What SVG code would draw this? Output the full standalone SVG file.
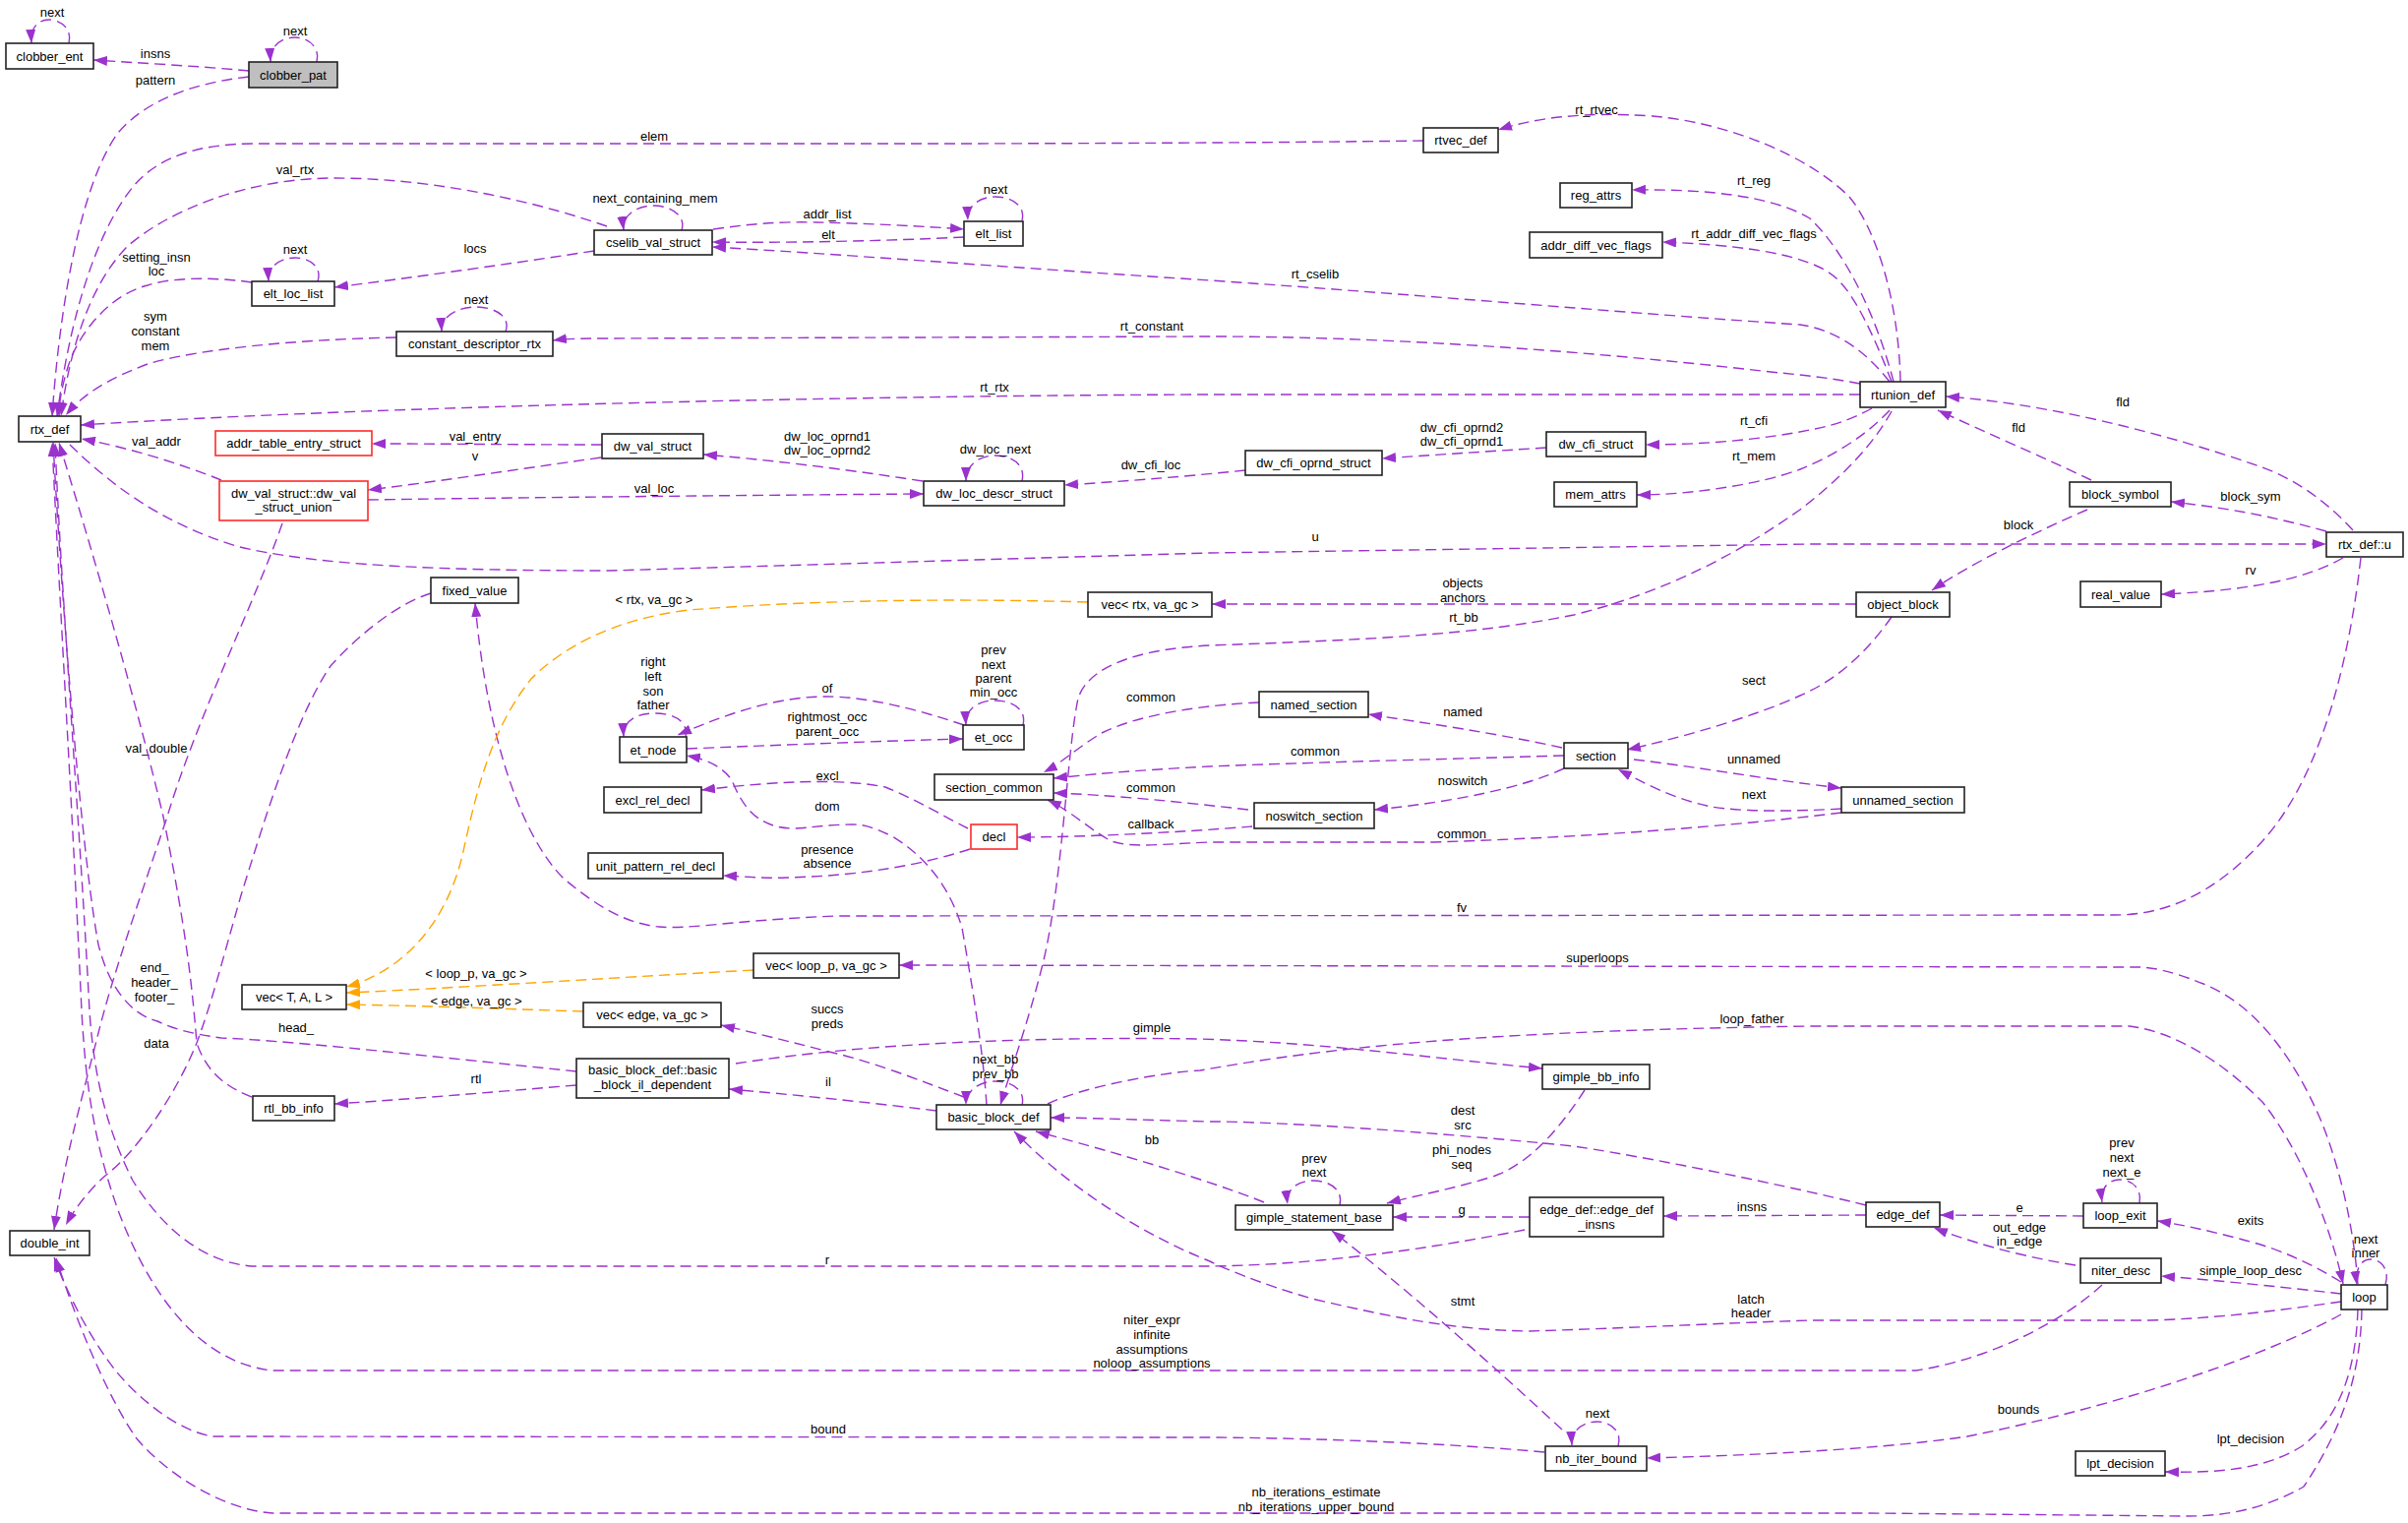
<svg xmlns="http://www.w3.org/2000/svg" width="2448" height="1548" viewBox="0 0 2448 1548">
<defs>
<style>
text{font-family:"Liberation Sans",Arial,Helvetica,sans-serif;font-size:13px;fill:#000;text-anchor:middle}
.n rect{fill:#fff;stroke:#222;stroke-width:1.6}
.n.red rect{stroke:#ff2a2a}
.n.cur rect{fill:#bfbfbf}
.e path{fill:none;stroke:#9a32cd;stroke-width:1.4;stroke-dasharray:11,6;marker-end:url(#ap)}
.o path{fill:none;stroke:#ffa500;stroke-width:1.4;stroke-dasharray:11,6;marker-end:url(#ao)}
</style>
<marker id="ap" markerUnits="userSpaceOnUse" markerWidth="14" markerHeight="10" refX="14" refY="5" orient="auto"><path d="M0,0L14,5L0,10z" fill="#9a32cd"/></marker>
<marker id="ao" markerUnits="userSpaceOnUse" markerWidth="14" markerHeight="10" refX="14" refY="5" orient="auto"><path d="M0,0L14,5L0,10z" fill="#ffa500"/></marker>
</defs>
<rect width="2448" height="1548" fill="#fff"/>
<g id="connectors">
<g class="e"><path d="M70,44 C74,28 60,20 50,20 C38,20 31,28 32,44"/><text x="53" y="16.5">next</text></g>
<g class="e"><path d="M322,63 C326,47 312,38 300,38 C287,38 274,46 275,63"/><text x="300" y="35.5">next</text></g>
<g class="e"><path d="M253,72 C200,67 140,64 95,61"/><text x="158" y="58.5">insns</text></g>
<g class="e"><path d="M253,78 C200,84 150,100 120,135 C80,190 60,320 53,423"/><text x="158" y="85.5">pattern</text></g>
<g class="e"><path d="M1447,143 C1300,145 1100,146 900,146 L260,146 C200,146 160,160 135,190 C95,240 70,330 58,423"/><text x="665" y="142.5">elem</text></g>
<g class="e"><path d="M617,230 C530,200 430,181 340,181 C250,181 170,215 130,250 C90,290 70,360 62,423"/><text x="300" y="176.5">val_rtx</text></g>
<g class="e"><path d="M693,234 C698,218 680,209 665,209 C648,209 632,218 634,234"/><text x="666" y="205.5">next_containing_mem</text></g>
<g class="e"><path d="M725,233 C760,228 790,225 830,226 C880,227 940,230 980,233"/><text x="841" y="221.5">addr_list</text></g>
<g class="e"><path d="M980,241 C900,245 800,247 724,246"/><text x="842" y="242.5">elt</text></g>
<g class="e"><path d="M1039,224 C1043,208 1027,200 1012,200 C997,200 983,208 984,224"/><text x="1012" y="196.5">next</text></g>
<g class="e"><path d="M1921,388 C1895,355 1865,335 1830,330 C1650,318 1450,300 1230,285 C1000,270 850,258 724,251"/><text x="1337" y="282.5">rt_cselib</text></g>
<g class="e"><path d="M1891,390 C1860,384 1840,382 1800,378 C1600,355 1400,342 1230,342 L610,344 C580,344 570,345 562,346"/><text x="1171" y="335.5">rt_constant</text></g>
<g class="e"><path d="M514,337 C520,320 500,312 484,312 C467,312 448,320 449,337"/><text x="484" y="308.5">next</text></g>
<g class="e"><path d="M403,343 C300,345 200,355 150,370 C110,385 85,400 67,422"/><text x="158" y="325.5">sym</text><text x="158" y="340.5">constant</text><text x="158" y="355.5">mem</text></g>
<g class="e"><path d="M256,287 C230,283 180,280 150,290 C110,300 80,340 70,370 C62,395 60,410 60,423"/><text x="159" y="265.5">setting_insn</text><text x="159" y="279.5">loc</text></g>
<g class="e"><path d="M323,286 C328,270 313,262 300,262 C286,262 272,270 273,286"/><text x="300" y="257.5">next</text></g>
<g class="e"><path d="M604,255 C520,268 420,282 340,292"/><text x="483" y="256.5">locs</text></g>
<g class="e"><path d="M1891,401 L1230,401 C900,402 400,412 82,432"/><text x="1011" y="397.5">rt_rtx</text></g>
<g class="e"><path d="M612,452 C530,452 450,451 378,451"/><text x="483" y="447.5">val_entry</text></g>
<g class="e"><path d="M611,465 C520,478 440,490 374,498"/><text x="483" y="467.5">v</text></g>
<g class="e"><path d="M225,488 C180,470 130,455 83,446"/><text x="159" y="452.5">val_addr</text></g>
<g class="e"><path d="M374,508 C500,506 800,503 939,502"/><text x="665" y="500.5">val_loc</text></g>
<g class="e"><path d="M938,489 C860,477 780,467 715,462"/><text x="841" y="447.5">dw_loc_oprnd1</text><text x="841" y="461.5">dw_loc_oprnd2</text></g>
<g class="e"><path d="M1039,489 C1043,471 1027,463 1012,463 C997,463 982,471 982,489"/><text x="1012" y="460.5">dw_loc_next</text></g>
<g class="e"><path d="M1266,478 C1200,485 1130,490 1082,493"/><text x="1170" y="476.5">dw_cfi_loc</text></g>
<g class="e"><path d="M1572,455 C1510,459 1450,463 1405,466"/><text x="1486" y="438.5">dw_cfi_oprnd2</text><text x="1486" y="452.5">dw_cfi_oprnd1</text></g>
<g class="e"><path d="M1903,415 C1880,428 1860,433 1840,437 C1790,447 1730,452 1673,452"/><text x="1783" y="431.5">rt_cfi</text></g>
<g class="e"><path d="M1921,417 C1895,445 1860,465 1830,477 C1790,492 1720,503 1664,503"/><text x="1783" y="467.5">rt_mem</text></g>
<g class="e"><path d="M1925,388 C1910,330 1880,260 1840,222 C1800,198 1730,192 1659,193"/><text x="1783" y="187.5">rt_reg</text></g>
<g class="e"><path d="M1923,388 C1905,340 1885,300 1869,285 C1850,265 1800,250 1690,246"/><text x="1783" y="241.5">rt_addr_diff_vec_flags</text></g>
<g class="e"><path d="M1932,388 C1930,300 1905,230 1880,200 C1840,160 1760,125 1680,118 C1610,113 1560,120 1523,132"/><text x="1623" y="115.5">rt_rtvec</text></g>
<g class="e"><path d="M2126,488 C2080,466 2020,440 1970,417"/><text x="2052" y="438.5">fld</text></g>
<g class="e"><path d="M2392,539 C2370,515 2340,490 2300,475 C2200,440 2080,410 1978,403"/><text x="2158" y="412.5">fld</text></g>
<g class="e"><path d="M2365,540 C2320,528 2280,518 2207,510"/><text x="2288" y="508.5">block_sym</text></g>
<g class="e"><path d="M2122,518 C2060,545 2000,575 1964,600"/><text x="2052" y="537.5">block</text></g>
<g class="e"><path d="M71,452 C110,490 160,530 240,555 C320,575 450,580 620,580 L1230,562 L1840,553 L2365,553"/><text x="1337" y="549.5">u</text></g>
<g class="e"><path d="M2382,567 C2350,585 2300,600 2197,604"/><text x="2288" y="583.5">rv</text></g>
<g class="e"><path d="M2400,567 C2385,700 2350,800 2300,855 C2250,910 2200,930 2150,930 L850,931 C750,935 700,945 670,942 C630,938 600,915 573,893 C530,850 495,750 483,613"/><text x="1486" y="926.5">fv</text></g>
<g class="e"><path d="M1887,614 L1232,614"/><text x="1487" y="596.5">objects</text><text x="1487" y="611.5">anchors</text></g>
<g class="e"><path d="M1923,418 C1900,460 1860,495 1830,518 C1770,560 1700,600 1600,625 C1500,645 1400,650 1230,656 C1150,660 1105,680 1096,710 C1085,760 1080,900 1060,980 C1045,1040 1030,1080 1017,1123"/><text x="1488" y="631.5">rt_bb</text></g>
<g class="e"><path d="M1923,627 C1900,660 1870,690 1830,707 C1780,730 1700,752 1654,762"/><text x="1783" y="695.5">sect</text></g>
<g class="e"><path d="M1588,760 C1520,745 1450,735 1391,726"/><text x="1487" y="727.5">named</text></g>
<g class="e"><path d="M1590,768 C1450,772 1300,776 1230,779 C1150,783 1100,788 1071,791"/><text x="1337" y="767.5">common</text></g>
<g class="e"><path d="M1590,781 C1550,800 1480,815 1397,823"/><text x="1487" y="797.5">noswitch</text></g>
<g class="e"><path d="M1661,772 C1730,780 1800,793 1872,801"/><text x="1783" y="775.5">unnamed</text></g>
<g class="e"><path d="M1872,822 C1820,825 1770,825 1740,820 C1700,812 1670,795 1645,782"/><text x="1783" y="811.5">next</text></g>
<g class="e"><path d="M1872,826 C1800,835 1650,850 1457,856 L1230,856 C1180,858 1150,862 1130,855 C1110,845 1090,825 1065,813"/><text x="1486" y="851.5">common</text></g>
<g class="e"><path d="M1269,823 C1200,815 1130,808 1071,806"/><text x="1170" y="804.5">common</text></g>
<g class="e"><path d="M1273,840 C1200,846 1100,851 1034,851"/><text x="1170" y="841.5">callback</text></g>
<g class="e"><path d="M1280,714 C1230,716 1160,725 1120,745 C1095,760 1080,775 1061,785"/><text x="1170" y="712.5">common</text></g>
<g class="e"><path d="M984,842 C960,830 930,812 900,800 C850,790 780,795 713,803"/><text x="841" y="792.5">excl</text></g>
<g class="e"><path d="M986,863 C940,878 880,890 800,892 C780,893 760,891 735,890"/><text x="841" y="867.5">presence</text><text x="841" y="881.5">absence</text></g>
<g class="e"><path d="M980,737 C930,720 880,708 840,708 C790,708 740,725 689,747"/><text x="841" y="703.5">of</text></g>
<g class="e"><path d="M698,761 C800,757 900,753 979,751"/><text x="841" y="732.5">rightmost_occ</text><text x="841" y="747.5">parent_occ</text></g>
<g class="e"><path d="M697,749 C700,732 683,725 666,725 C648,725 633,732 634,749"/><text x="664" y="677">right</text><text x="664" y="692">left</text><text x="664" y="706.5">son</text><text x="664" y="721">father</text></g>
<g class="e"><path d="M1040,737 C1044,720 1028,712 1011,712 C995,712 981,720 982,737"/><text x="1010" y="664.5">prev</text><text x="1010" y="679.5">next</text><text x="1010" y="693.5">parent</text><text x="1010" y="707.5">min_occ</text></g>
<g class="e"><path d="M1003,1123 C1000,1080 995,1040 978,943 C965,900 940,870 907,850 C890,842 880,838 867,838 C840,838 820,842 808,842 C770,842 755,820 744,793 C735,780 720,772 698,768"/><text x="841" y="823.5">dom</text></g>
<g class="o"><path d="M1106,612 C1000,609 850,608 700,620 C620,630 570,660 540,690 C500,740 485,800 470,870 C450,950 400,990 352,1003"/><text x="665" y="613.5">&lt; rtx, va_gc &gt;</text></g>
<g class="o"><path d="M766,986 C600,995 450,1005 352,1009"/><text x="484" y="993.5">&lt; loop_p, va_gc &gt;</text></g>
<g class="o"><path d="M593,1028 C500,1025 420,1022 352,1021"/><text x="484" y="1021.5">&lt; edge, va_gc &gt;</text></g>
<g class="e"><path d="M2397,1305 C2393,1250 2380,1190 2360,1140 C2330,1070 2290,1020 2240,1000 C2210,988 2190,983 2173,983 L914,981"/><text x="1624" y="977.5">superloops</text></g>
<g class="e"><path d="M980,1115 C940,1100 890,1080 847,1070 C800,1058 760,1048 733,1042"/><text x="841" y="1029.5">succs</text><text x="841" y="1044.5">preds</text></g>
<g class="e"><path d="M952,1129 C880,1120 800,1112 741,1107"/><text x="842" y="1103.5">il</text></g>
<g class="e"><path d="M1039,1123 C1043,1107 1027,1099 1012,1099 C997,1099 982,1107 982,1123"/><text x="1012" y="1080.5">next_bb</text><text x="1012" y="1095.5">prev_bb</text></g>
<g class="e"><path d="M748,1081 C850,1065 1000,1053 1220,1056 C1350,1060 1450,1075 1568,1086"/><text x="1171" y="1048.5">gimple</text></g>
<g class="e"><path d="M1065,1122 C1100,1105 1180,1090 1220,1088 C1350,1065 1500,1048 1840,1043 L2165,1043 C2220,1050 2270,1090 2300,1120 C2340,1170 2370,1250 2382,1305"/><text x="1781" y="1039.5">loop_father</text></g>
<g class="e"><path d="M1611,1108 C1590,1140 1560,1180 1520,1195 C1480,1208 1440,1215 1410,1223"/><text x="1486" y="1172.5">phi_nodes</text><text x="1486" y="1187.5">seq</text></g>
<g class="e"><path d="M1897,1225 C1850,1213 1700,1180 1600,1165 C1450,1150 1300,1140 1230,1140 C1150,1138 1100,1136 1068,1136"/><text x="1487" y="1132.5">dest</text><text x="1487" y="1147.5">src</text></g>
<g class="e"><path d="M1285,1222 C1230,1200 1130,1170 1053,1150"/><text x="1171" y="1162.5">bb</text></g>
<g class="e"><path d="M1362,1225 C1366,1208 1350,1200 1335,1200 C1320,1200 1307,1208 1309,1224"/><text x="1336" y="1181.5">prev</text><text x="1336" y="1195.5">next</text></g>
<g class="e"><path d="M1555,1237 L1416,1237"/><text x="1486" y="1233.5">g</text></g>
<g class="e"><path d="M1897,1235 L1691,1236"/><text x="1781" y="1230.5">insns</text></g>
<g class="e"><path d="M2118,1236 L1972,1235"/><text x="2053" y="1231.5">e</text></g>
<g class="e"><path d="M2110,1286 C2060,1278 2010,1265 1966,1248"/><text x="2053" y="1251.5">out_edge</text><text x="2053" y="1265.5">in_edge</text></g>
<g class="e"><path d="M2175,1223 C2178,1206 2165,1199 2155,1199 C2145,1199 2135,1206 2137,1222"/><text x="2157" y="1165.5">prev</text><text x="2157" y="1180.5">next</text><text x="2157" y="1195.5">next_e</text></g>
<g class="e"><path d="M2380,1303 C2350,1285 2320,1270 2280,1260 C2250,1252 2220,1245 2193,1241"/><text x="2288" y="1244.5">exits</text></g>
<g class="e"><path d="M2380,1315 C2320,1308 2250,1301 2197,1297"/><text x="2288" y="1295.5">simple_loop_desc</text></g>
<g class="e"><path d="M2425,1306 C2430,1290 2420,1280 2410,1280 C2400,1280 2394,1290 2396,1306"/><text x="2405" y="1263.5">next</text><text x="2405" y="1277.5">inner</text></g>
<g class="e"><path d="M2380,1323 C2330,1330 2260,1340 2185,1342 L1840,1342 C1750,1345 1650,1350 1555,1353 C1480,1352 1420,1340 1338,1321 C1280,1305 1240,1287 1230,1282 C1150,1250 1080,1200 1031,1150"/><text x="1780" y="1324.5">latch</text><text x="1780" y="1338.5">header</text></g>
<g class="e"><path d="M2380,1336 C2300,1380 2150,1430 2000,1460 C1900,1475 1750,1480 1674,1482"/><text x="2052" y="1436.5">bounds</text></g>
<g class="e"><path d="M2397,1331 C2395,1390 2380,1440 2340,1470 C2300,1495 2250,1497 2201,1496"/><text x="2288" y="1466.5">lpt_decision</text></g>
<g class="e"><path d="M1645,1470 C1650,1453 1635,1445 1624,1445 C1610,1445 1597,1453 1598,1469"/><text x="1624" y="1440.5">next</text></g>
<g class="e"><path d="M1588,1453 C1520,1390 1430,1310 1354,1251"/><text x="1487" y="1326.5">stmt</text></g>
<g class="e"><path d="M586,1103 C500,1110 420,1117 340,1122"/><text x="484" y="1100.5">rtl</text></g>
<g class="e"><path d="M287,532 C260,610 200,730 170,830 C140,920 115,990 100,1050 C85,1110 65,1180 55,1250"/><text x="159" y="764.5">val_double</text></g>
<g class="e"><path d="M438,603 C400,615 360,650 336,677 C300,730 270,830 245,910 C225,980 215,1020 200,1060 C180,1110 140,1170 107,1195 C90,1210 75,1230 67,1245"/><text x="159" y="1064.5">data</text></g>
<g class="e"><path d="M256,1115 C230,1105 210,1090 200,1060 C195,1000 190,950 166,830 C140,720 100,580 60,450"/><text x="157" y="987.5">end_</text><text x="157" y="1002.5">header_</text><text x="157" y="1017.5">footer_</text></g>
<g class="e"><path d="M586,1089 C450,1075 300,1058 225,1055 C190,1050 175,1045 160,1038 C130,1030 110,1000 100,960 C85,880 65,650 54,450"/><text x="301" y="1048.5">head_</text></g>
<g class="e"><path d="M1550,1250 C1450,1270 1330,1287 1220,1287 L257,1287 C200,1283 160,1240 135,1200 C110,1150 96,1100 91,1028 C82,850 62,600 56,450"/><text x="841" y="1284.5">r</text></g>
<g class="e"><path d="M2137,1306 C2100,1340 2030,1380 1948,1393 L277,1393 C200,1385 150,1310 120,1230 C95,1160 87,1100 83,1028 C75,850 60,600 53,450"/><text x="1171" y="1345.5">niter_expr</text><text x="1171" y="1360.5">infinite</text><text x="1171" y="1375.5">assumptions</text><text x="1171" y="1389.5">noloop_assumptions</text></g>
<g class="e"><path d="M1570,1476 C1450,1465 1300,1461 1220,1461 L217,1460 C180,1455 140,1420 119,1395 C95,1365 70,1320 55,1278"/><text x="842" y="1456.5">bound</text></g>
<g class="e"><path d="M2401,1331 C2400,1380 2390,1440 2342,1511 C2300,1535 2260,1541 2224,1541 L1900,1538 L277,1538 C230,1535 170,1500 138,1461 C110,1420 80,1350 57,1279"/><text x="1338" y="1520.5">nb_iterations_estimate</text><text x="1338" y="1535.5">nb_iterations_upper_bound</text></g>
</g>
<g id="clobber_ent" class="n"><rect x="6" y="44" width="89" height="26"/><text x="50.5" y="61.5">clobber_ent</text></g>
<g id="clobber_pat" class="n cur"><rect x="253" y="63" width="90" height="26"/><text x="298" y="80.5">clobber_pat</text></g>
<g id="elt_loc_list" class="n"><rect x="256" y="286" width="84" height="25"/><text x="298" y="303">elt_loc_list</text></g>
<g id="constant_descriptor_rtx" class="n"><rect x="403" y="337" width="159" height="25"/><text x="482.5" y="354">constant_descriptor_rtx</text></g>
<g id="rtx_def" class="n"><rect x="19" y="423" width="63" height="26"/><text x="50.5" y="440.5">rtx_def</text></g>
<g id="addr_table_entry_struct" class="n red"><rect x="219" y="438" width="159" height="25"/><text x="298.5" y="455">addr_table_entry_struct</text></g>
<g id="dw_val_struct_union" class="n red"><rect x="223" y="489" width="151" height="40"/><text x="298.5" y="505.5">dw_val_struct::dw_val</text><text x="298.5" y="519.5">_struct_union</text></g>
<g id="cselib_val_struct" class="n"><rect x="604" y="234" width="120" height="25"/><text x="664" y="251">cselib_val_struct</text></g>
<g id="elt_list" class="n"><rect x="980" y="225" width="60" height="25"/><text x="1010" y="242">elt_list</text></g>
<g id="dw_val_struct" class="n"><rect x="612" y="441" width="103" height="25"/><text x="663.5" y="458">dw_val_struct</text></g>
<g id="dw_loc_descr_struct" class="n"><rect x="939" y="489" width="143" height="25"/><text x="1010.5" y="506">dw_loc_descr_struct</text></g>
<g id="rtvec_def" class="n"><rect x="1447" y="130" width="76" height="25"/><text x="1485" y="147">rtvec_def</text></g>
<g id="reg_attrs" class="n"><rect x="1586" y="186" width="73" height="25"/><text x="1622.5" y="203">reg_attrs</text></g>
<g id="addr_diff_vec_flags" class="n"><rect x="1555" y="236" width="135" height="26"/><text x="1622.5" y="253.5">addr_diff_vec_flags</text></g>
<g id="dw_cfi_struct" class="n"><rect x="1572" y="439" width="101" height="25"/><text x="1622.5" y="456">dw_cfi_struct</text></g>
<g id="dw_cfi_oprnd_struct" class="n"><rect x="1266" y="458" width="139" height="25"/><text x="1335.5" y="475">dw_cfi_oprnd_struct</text></g>
<g id="mem_attrs" class="n"><rect x="1580" y="490" width="84" height="25"/><text x="1622" y="507">mem_attrs</text></g>
<g id="rtunion_def" class="n"><rect x="1891" y="388" width="87" height="26"/><text x="1934.5" y="405.5">rtunion_def</text></g>
<g id="block_symbol" class="n"><rect x="2104" y="490" width="103" height="25"/><text x="2155.5" y="507">block_symbol</text></g>
<g id="fixed_value" class="n"><rect x="438" y="587" width="89" height="26"/><text x="482.5" y="604.5">fixed_value</text></g>
<g id="vec_T_A_L" class="n"><rect x="246" y="1001" width="106" height="25"/><text x="299" y="1018">vec&lt; T, A, L &gt;</text></g>
<g id="vec_rtx" class="n"><rect x="1106" y="602" width="126" height="25"/><text x="1169" y="619">vec&lt; rtx, va_gc &gt;</text></g>
<g id="et_node" class="n"><rect x="630" y="749" width="68" height="26"/><text x="664" y="766.5">et_node</text></g>
<g id="et_occ" class="n"><rect x="979" y="737" width="62" height="25"/><text x="1010" y="754">et_occ</text></g>
<g id="section_common" class="n"><rect x="950" y="787" width="121" height="26"/><text x="1010.5" y="804.5">section_common</text></g>
<g id="excl_rel_decl" class="n"><rect x="614" y="800" width="99" height="26"/><text x="663.5" y="817.5">excl_rel_decl</text></g>
<g id="decl" class="n red"><rect x="987" y="838" width="47" height="25"/><text x="1010.5" y="855">decl</text></g>
<g id="unit_pattern_rel_decl" class="n"><rect x="598" y="867" width="137" height="26"/><text x="666.5" y="884.5">unit_pattern_rel_decl</text></g>
<g id="vec_loop_p" class="n"><rect x="766" y="969" width="148" height="25"/><text x="840" y="986">vec&lt; loop_p, va_gc &gt;</text></g>
<g id="vec_edge" class="n"><rect x="593" y="1019" width="140" height="25"/><text x="663" y="1036">vec&lt; edge, va_gc &gt;</text></g>
<g id="named_section" class="n"><rect x="1280" y="703" width="111" height="26"/><text x="1335.5" y="720.5">named_section</text></g>
<g id="section" class="n"><rect x="1590" y="755" width="65" height="26"/><text x="1622.5" y="772.5">section</text></g>
<g id="noswitch_section" class="n"><rect x="1275" y="816" width="122" height="26"/><text x="1336" y="833.5">noswitch_section</text></g>
<g id="rtx_def_u" class="n"><rect x="2365" y="541" width="78" height="25"/><text x="2404" y="558">rtx_def::u</text></g>
<g id="real_value" class="n"><rect x="2115" y="591" width="82" height="26"/><text x="2156" y="608.5">real_value</text></g>
<g id="object_block" class="n"><rect x="1887" y="602" width="95" height="25"/><text x="1934.5" y="619">object_block</text></g>
<g id="unnamed_section" class="n"><rect x="1872" y="800" width="125" height="26"/><text x="1934.5" y="817.5">unnamed_section</text></g>
<g id="double_int" class="n"><rect x="10" y="1251" width="81" height="25"/><text x="50.5" y="1268">double_int</text></g>
<g id="rtl_bb_info" class="n"><rect x="257" y="1114" width="83" height="25"/><text x="298.5" y="1131">rtl_bb_info</text></g>
<g id="basic_block_il_dependent" class="n"><rect x="586" y="1076" width="155" height="40"/><text x="663.5" y="1092">basic_block_def::basic</text><text x="663.5" y="1106.5">_block_il_dependent</text></g>
<g id="basic_block_def" class="n"><rect x="952" y="1123" width="116" height="25"/><text x="1010" y="1140">basic_block_def</text></g>
<g id="gimple_bb_info" class="n"><rect x="1568" y="1082" width="109" height="25"/><text x="1622.5" y="1099">gimple_bb_info</text></g>
<g id="gimple_statement_base" class="n"><rect x="1256" y="1225" width="160" height="25"/><text x="1336" y="1242">gimple_statement_base</text></g>
<g id="edge_def_insns" class="n"><rect x="1555" y="1217" width="136" height="40"/><text x="1623" y="1233.5">edge_def::edge_def</text><text x="1623" y="1248.5">_insns</text></g>
<g id="nb_iter_bound" class="n"><rect x="1571" y="1470" width="103" height="25"/><text x="1622.5" y="1487">nb_iter_bound</text></g>
<g id="edge_def" class="n"><rect x="1897" y="1222" width="75" height="25"/><text x="1934.5" y="1239">edge_def</text></g>
<g id="loop_exit" class="n"><rect x="2118" y="1223" width="75" height="25"/><text x="2155.5" y="1240">loop_exit</text></g>
<g id="niter_desc" class="n"><rect x="2115" y="1279" width="82" height="25"/><text x="2156" y="1296">niter_desc</text></g>
<g id="loop" class="n"><rect x="2380" y="1306" width="47" height="25"/><text x="2403.5" y="1323">loop</text></g>
<g id="lpt_decision" class="n"><rect x="2110" y="1475" width="91" height="25"/><text x="2155.5" y="1492">lpt_decision</text></g>
</svg>
